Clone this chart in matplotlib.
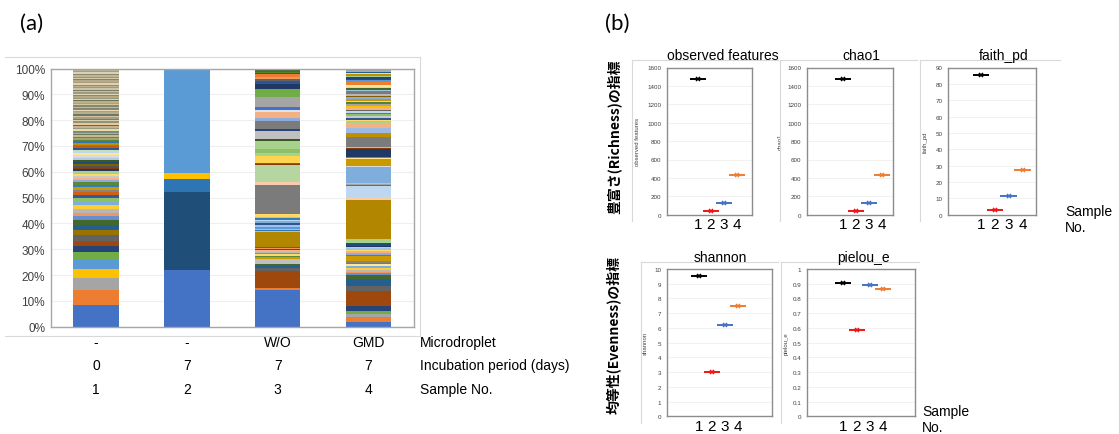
import numpy as np
import matplotlib
matplotlib.use('Agg')
import matplotlib.pyplot as plt
from matplotlib.lines import Line2D
from matplotlib import transforms

W, H = 1119, 435

# ---------------- panel (a): relative abundance (%), bottom -> top ----------------
sample1_pct = [8.4, 6.0, 4.5, 3.6, 3.2, 3.1, 2.3, 2.2, 2.1, 2.1, 2.0, 1.7,
               1.5, 1.5, 1.4, 1.5, 1.3, 1.3, 1.2, 1.1, 1.0, 1.1, 0.9, 1.0,
               0.8, 0.7, 0.7, 0.8, 0.6, 0.7, 0.6, 0.7, 0.8, 0.7, 0.6, 0.7,
               0.8, 0.6, 0.7, 0.7, 0.8, 0.6, 0.7, 0.6,
               0.6, 0.5, 0.7, 0.6, 0.6, 0.5, 0.7, 0.6, 0.5, 0.6, 0.7, 0.6,
               0.5, 0.6, 0.6, 0.7, 0.5, 0.6, 0.6, 0.5, 0.7, 0.6, 0.6, 0.5, 0.6,
               0.5, 0.6, 0.4, 0.5, 0.6, 0.5, 0.5, 0.4, 0.6, 0.5, 0.5, 0.6,
               0.4, 0.5, 0.5, 0.6, 0.5, 0.4, 0.5, 0.6, 0.5, 0.5, 0.4, 0.6,
               0.5, 0.5, 0.6, 0.5, 0.5, 0.5]
sample2_pct = [21.9, 30.3, 5.0, 2.5, 39.6, 0.7]
sample3_pct = [14.1, 0.8, 6.7, 1.0, 0.8, 0.8, 2.1, 0.6, 0.5, 0.6, 0.5, 0.6,
               0.5, 0.4, 0.4, 0.4, 5.8, 0.5, 0.4, 0.4, 0.8, 0.7, 0.6, 0.8,
               0.5, 0.7, 0.6, 1.1, 11.3, 1.0, 6.7, 0.35, 0.35, 2.7, 1.3, 1.3,
               3.1, 0.8, 3.2, 0.7, 3.1, 1.3, 2.3, 0.6, 1.3, 3.9, 3.2, 1.7,
               1.2, 1.0, 0.8, 0.8, 0.4, 0.5, 0.4, 0.5, 0.5]
sample4_pct = [1.9, 1.9, 1.0, 1.3, 1.9, 5.8, 1.9, 2.8, 1.5,
               0.7, 0.6, 0.7, 0.8, 0.6, 0.7, 0.6, 0.6,
               2.0, 0.6, 0.7, 0.6, 0.6, 0.5, 0.6, 0.5, 0.5, 0.5,
               1.7, 14.8, 1.4, 4.1, 0.5, 0.4, 0.4, 6.2, 0.5, 2.4, 0.5, 0.5,
               2.9, 0.5, 0.5, 3.7, 1.5, 2.2, 1.6,
               0.8, 0.6, 0.9, 0.5, 0.7, 0.6, 0.8, 0.5, 0.7, 0.6, 0.9, 0.6,
               0.7, 0.5, 0.8, 0.6, 0.7, 1.0, 0.6, 0.5, 0.7, 0.6, 1.2, 0.6,
               0.5, 0.7, 0.6, 0.5, 0.5, 0.5, 0.5, 0.5]
microdroplet = ['-', '-', 'W/O', 'GMD']
incubation_days = ['0', '7', '7', '7']
sample_no = ['1', '2', '3', '4']
row_names = ['Microdroplet', 'Incubation period (days)', 'Sample No.']

# ---------------- panel (b): alpha diversity ----------------
div_samples = [1, 2, 3, 4]
observed_features = [1475, 45, 130, 435]
chao1 = [1478, 42, 130, 435]
faith_pd = [85.5, 2.8, 11.2, 27.5]
shannon = [9.5, 3.0, 6.2, 7.5]
pielou_e = [0.905, 0.585, 0.893, 0.862]

# excel series colour cycle (later series get the muted variants)
excel_cycle = ['#4472C4', '#ED7D31', '#A5A5A5', '#FFC000', '#5B9BD5', '#70AD47',
               '#264478', '#9E480E', '#636363', '#997300', '#255E91', '#43682B',
               '#698ED0', '#F1975A', '#B7B7B7', '#FFCD33', '#7CAFDD', '#8CC168',
               '#335AA1', '#D26012', '#848484', '#CC9A00', '#327DC2', '#5A8A39',
               '#8FAADC', '#F4B183', '#C9C9C9', '#FFD966', '#9DC3E6', '#A9D18E',
               '#203864', '#843C0C', '#525252', '#7F6000', '#1F4E79', '#385723',
               '#B4C7E7', '#F8CBAD', '#DBDBDB', '#FFE699', '#BDD7EE', '#C5E0B4',
               '#2F5597', '#C55A11', '#7B7B7B', '#BF9000', '#2E75B6', '#548235',
               '#A6A27A', '#5E7F9C', '#C8B88A', '#6E7B5B', '#D9A07A', '#7A8A8A',
               '#E8D9A8', '#9A9A7A', '#C9B08A', '#5E6B55', '#E4C99A', '#8F9477',
               '#D8CDB0', '#76806A', '#A89F80', '#CFC3A0', '#6F7766', '#B7AE8E',
               '#9CA58A', '#E6D8B8', '#8A8470', '#BDB89A', '#7E8C72', '#D4C6A2',
               '#A3A38A', '#C2B07E', '#6C7560', '#DCCFAE', '#989A82', '#B9A77E',
               '#848B74', '#E2D6BA', '#A09A7E', '#C7BC98', '#77806C', '#D0C3A4',
               '#9A9C86', '#BFAF88', '#8C9079', '#DED2B2', '#A8A186', '#B5AA88',
               '#7F8670', '#D6CAA8', '#959680', '#C4B592', '#868C76', '#DAD0B4',
               '#A49E84', '#BBB08E', '#8A8E78']
sample1_colors = [excel_cycle[k % len(excel_cycle)] for k in range(len(sample1_pct))]
sample2_colors = ['#4472C4', '#1F4E79', '#2E75B6', '#FFC000', '#5B9BD5', '#C9A38A']
sample3_colors = ['#4472C4', '#ED7D31', '#9E480E', '#636363', '#255E91', '#43682B',
                  '#BFBFBF', '#CC9A00', '#5A8A39', '#FFD966', '#70AD47', '#B7B7B7',
                  '#F4B183', '#843C0C', '#F1975A', '#7F6000', '#B38600', '#A9D18E',
                  '#2E75B6', '#9DC3E6', '#5B9BD5', '#9DC3E6', '#2F5597', '#7CAFDD',
                  '#BDD7EE', '#327DC2', '#9DC3E6', '#FFD966', '#7B7B7B', '#F8CBAD',
                  '#B5D6A0', '#843C0C', '#636363', '#FFD54F', '#A9D18E', '#8CC168',
                  '#A9D18E', '#385723', '#C0C0C0', '#264478', '#7B7B7B', '#8FAADC',
                  '#F4B183', '#DAE3F3', '#4472C4', '#A5A5A5', '#70AD47', '#203864',
                  '#2F5597', '#636363', '#F1975A', '#ED7D31', '#843C0C', '#548235',
                  '#9E480E', '#43682B', '#7F6000']
sample4_colors = ['#4472C4', '#ED7D31', '#A5A5A5', '#70AD47', '#264478', '#9E480E',
                  '#636363', '#255E91', '#43682B',
                  '#698ED0', '#F1975A', '#B7B7B7', '#FFCD33', '#7CAFDD', '#FFE699',
                  '#D26012', '#848484',
                  '#CC9A00', '#5A8A39', '#8FAADC', '#F4B183', '#FFD966', '#9DC3E6',
                  '#C9C9C9', '#203864', '#1F4E79', '#385723',
                  '#A9D18E', '#B38600', '#F8CBAD', '#BDD7EE', '#548235', '#A5A5A5',
                  '#F4B183', '#7FAEDD', '#DBDBDB', '#C99A00', '#FFE699', '#7F7F7F',
                  '#203864', '#843C0C', '#9DC3E6', '#7B7B7B', '#BF9000', '#9DB9E6',
                  '#F4B183',
                  '#A9D18E', '#FFD966', '#2F5597', '#C9C9C9', '#8CC168', '#997300',
                  '#BDD7EE', '#636363', '#F4B183', '#FFC000', '#A5A5A5', '#548235',
                  '#C5E0B4', '#CC9A00', '#8FAADC', '#7F6000', '#B7B7B7', '#7B7B7B',
                  '#9DC3E6', '#43682B', '#F8CBAD', '#FFE699', '#ED7D31', '#5B9BD5',
                  '#385723', '#264478', '#A9D18E', '#BF9000', '#DBDBDB', '#255E91',
                  '#C9A38A', '#A5A5A5']

marker_colors = ['#000000', '#F01414', '#4472C4', '#ED7D31']

plt.rcParams['font.family'] = ['Liberation Sans', 'DejaVu Sans']
fig = plt.figure(figsize=(W / 100, H / 100), dpi=100)


def add_ax(l, t, r, b):
    return fig.add_axes([l / W, 1 - b / H, (r - l) / W, (b - t) / H])


def fig_line(x0, y0, x1, y1, color='#D9D9D9'):
    fig.add_artist(Line2D([x0 / W, x1 / W], [1 - y0 / H, 1 - y1 / H],
                          transform=fig.transFigure, color=color, lw=0.8))


def fig_text(x, y, s, **kw):
    return fig.text(x / W, 1 - y / H, s, **kw)


# ---------------- panel (a) ----------------
fig_line(5, 58, 420, 58)
fig_line(420, 58, 420, 337)
fig_line(5, 337, 420, 337)
fig_text(32, 24, '(a)', family='Lato', fontsize=16, ha='center', va='center')

ax = add_ax(50.7, 69.5, 414, 327.7)
all_pct = [sample1_pct, sample2_pct, sample3_pct, sample4_pct]
all_cols = [sample1_colors, sample2_colors, sample3_colors, sample4_colors]
for i, (vals, cols) in enumerate(zip(all_pct, all_cols)):
    bottoms = np.concatenate([[0], np.cumsum(vals)[:-1]])
    ax.bar(np.full(len(vals), i), vals, bottom=bottoms, width=0.5,
           color=cols, linewidth=0, zorder=2)
ax.set_xlim(-0.5, 3.5)
ax.set_ylim(0, 100)
ax.set_yticks(np.arange(0, 101, 10))
ax.set_yticklabels(['{}%'.format(v) for v in range(0, 101, 10)])
ax.set_xticks([])
ax.tick_params(axis='y', length=0, pad=4, labelsize=8.5, colors='#404040')
ax.grid(axis='y', color='#EFEFEF', lw=0.8, zorder=0)
for sp in ax.spines.values():
    sp.set_color('#A6A6A6')
    sp.set_linewidth(1.0)

trans = transforms.blended_transform_factory(ax.transData, fig.transFigure)
for row, (labels, y) in enumerate(zip([microdroplet, incubation_days, sample_no],
                                      [343, 366, 390])):
    for i, lab in enumerate(labels):
        ax.text(i, 1 - y / H, lab, transform=trans, ha='center', va='center',
                fontsize=10, clip_on=False)
    fig_text(420, y, row_names[row], ha='left', va='center', fontsize=10)

# ---------------- panel (b) ----------------
fig_text(617, 24, '(b)', family='Lato', fontsize=16, ha='center', va='center')

cjk = ['Noto Sans CJK JP', 'DejaVu Sans']
fig_text(614, 137, '豊富さ(Richness)の指標', family=cjk, rotation=90,
         fontsize=10, fontweight='bold', ha='center', va='center')
fig_text(614, 335, '均等性(Evenness)の指標', family=cjk, rotation=90,
         fontsize=10, fontweight='bold', ha='center', va='center')

fig_text(1065, 212, 'Sample', ha='left', va='center', fontsize=10)
fig_text(1065, 228, 'No.', ha='left', va='center', fontsize=10)
fig_text(922, 412, 'Sample', ha='left', va='center', fontsize=10)
fig_text(922, 428, 'No.', ha='left', va='center', fontsize=10)

# chart area borders (top + left)
for l, t, r, b in [(632, 61, 778, 222), (780, 61, 917, 222), (920, 61, 1060, 222),
                   (641, 263, 778, 424), (781, 263, 919, 424)]:
    fig_line(l, t, r, t)
    fig_line(l, t, l, b)

panels = [
    # values, title, ylabel, box(l,t,r,b), xlim, ylim, step, title pos, ylabel dx
    (observed_features, 'observed features', 'observed features',
     (666.7, 68.5, 752.3, 215.7), (-1.41, 5.18), (0, 1600), 200, (723, 56), 27),
    (chao1, 'chao1', 'chao1',
     (806.7, 68.5, 893.3, 215.7), (-1.77, 4.89), (0, 1600), 200, (861, 56), 24),
    (faith_pd, 'faith_pd', 'faith_pd',
     (948, 68.5, 1035.7, 215.7), (-1.37, 4.93), (0, 90), 10, (1004, 56), 20),
    (shannon, 'shannon', 'shannon',
     (666.7, 270, 771.7, 417.3), (-1.48, 6.59), (0, 10), 1, (720, 258), 19),
    (pielou_e, 'pielou_e', 'pielou_e',
     (806.7, 270, 915, 417.3), (-1.75, 6.38), (0, 1), 0.1, (863, 258), 18),
]

for vals, title, ylabel, box, xlim, ylim, step, tpos, dx in panels:
    bx = add_ax(*box)
    for x, v, c in zip(div_samples, vals, marker_colors):
        bx.errorbar(x, v, xerr=0.6, fmt='x', color=c, ms=3.5, mew=1.1,
                    elinewidth=1.4, capsize=0, zorder=3)
    bx.set_xlim(*xlim)
    bx.set_ylim(*ylim)
    ticks = np.arange(ylim[0], ylim[1] + step / 2, step)
    bx.set_yticks(ticks)
    bx.set_yticklabels(['{:g}'.format(round(t, 2)) for t in ticks])
    bx.set_xticks(div_samples)
    bx.set_xticklabels([str(s) for s in div_samples])
    bx.tick_params(axis='y', length=0, pad=4, labelsize=4.5, colors='#404040')
    bx.tick_params(axis='x', length=0, pad=2, labelsize=11)
    bx.grid(axis='y', color='#F0F0F0', lw=0.6, zorder=0)
    for sp in bx.spines.values():
        sp.set_color('#8C8C8C')
        sp.set_linewidth(1.0)
    bx.set_ylabel(ylabel, fontsize=4.3, color='#404040')
    bw = box[2] - box[0]
    bx.yaxis.set_label_coords(-dx / bw, 0.5)
    fig_text(tpos[0], tpos[1], title, ha='center', va='center', fontsize=10)

fig.savefig('out.png', dpi=100)
